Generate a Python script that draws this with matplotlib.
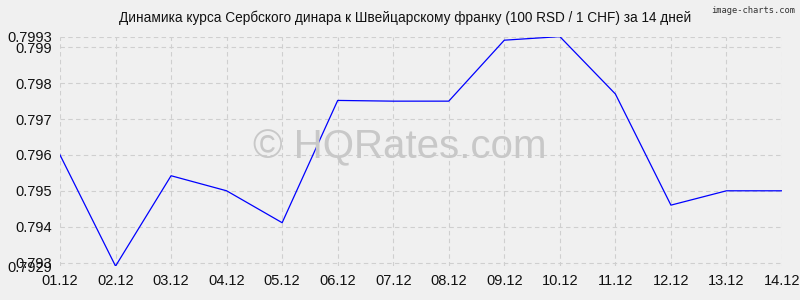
import matplotlib
matplotlib.use("Agg")
import matplotlib.pyplot as plt

# --- data ---
dates = ["01.12", "02.12", "03.12", "04.12", "05.12", "06.12", "07.12",
         "08.12", "09.12", "10.12", "11.12", "12.12", "13.12", "14.12"]
rates = [0.7960, 0.7929, 0.79542, 0.7950, 0.79411, 0.79752, 0.79750,
         0.79750, 0.79920, 0.7993, 0.79770, 0.79460, 0.79500, 0.79500]
y_ticks = [0.7929, 0.793, 0.794, 0.795, 0.796, 0.797, 0.798, 0.799, 0.7993]
y_labels = ["0.7929", "0.793", "0.794", "0.795", "0.796", "0.797", "0.798", "0.799", "0.7993"]

BG = "#f0f0f0"
plt.rcParams.update({"font.family": ["Liberation Sans", "DejaVu Sans"]})

fig = plt.figure(figsize=(8, 3), dpi=100, facecolor=BG)
ax = fig.add_axes([0.075, 0.113, 0.9025, 0.765], facecolor=BG)

x = list(range(len(dates)))
ax.plot(x, rates, color="#0000ff", linewidth=0.9, zorder=3)

ax.set_xlim(0, len(dates) - 1)
ax.set_ylim(y_ticks[0], y_ticks[-1])
ax.set_xticks(x)
ax.set_xticklabels(dates)
ax.set_yticks(y_ticks)
ax.set_yticklabels(y_labels)
ax.tick_params(labelsize=10.5, length=0, pad=6, colors="#111111")

ax.grid(True, color="#cfcfcf", linestyle=(0, (4, 3)), linewidth=0.8)
for s in ax.spines.values():
    s.set_visible(False)

fig.text(0.507, 0.94, "Динамика курса Сербского динара к Швейцарскому франку (100 RSD / 1 CHF) за 14 дней",
         ha="center", va="center", fontsize=9.8, color="#111111")
fig.text(0.994, 0.965, "image-charts.com", ha="right", va="center", fontsize=6.3,
         color="#333333", family=["DejaVu Sans Mono", "DejaVu Sans"])
fig.text(0.5, 0.51, "© HQRates.com", ha="center", va="center", fontsize=29,
         color="#c8c8c8", zorder=1)

fig.savefig("out.png", dpi=100, facecolor=BG)
